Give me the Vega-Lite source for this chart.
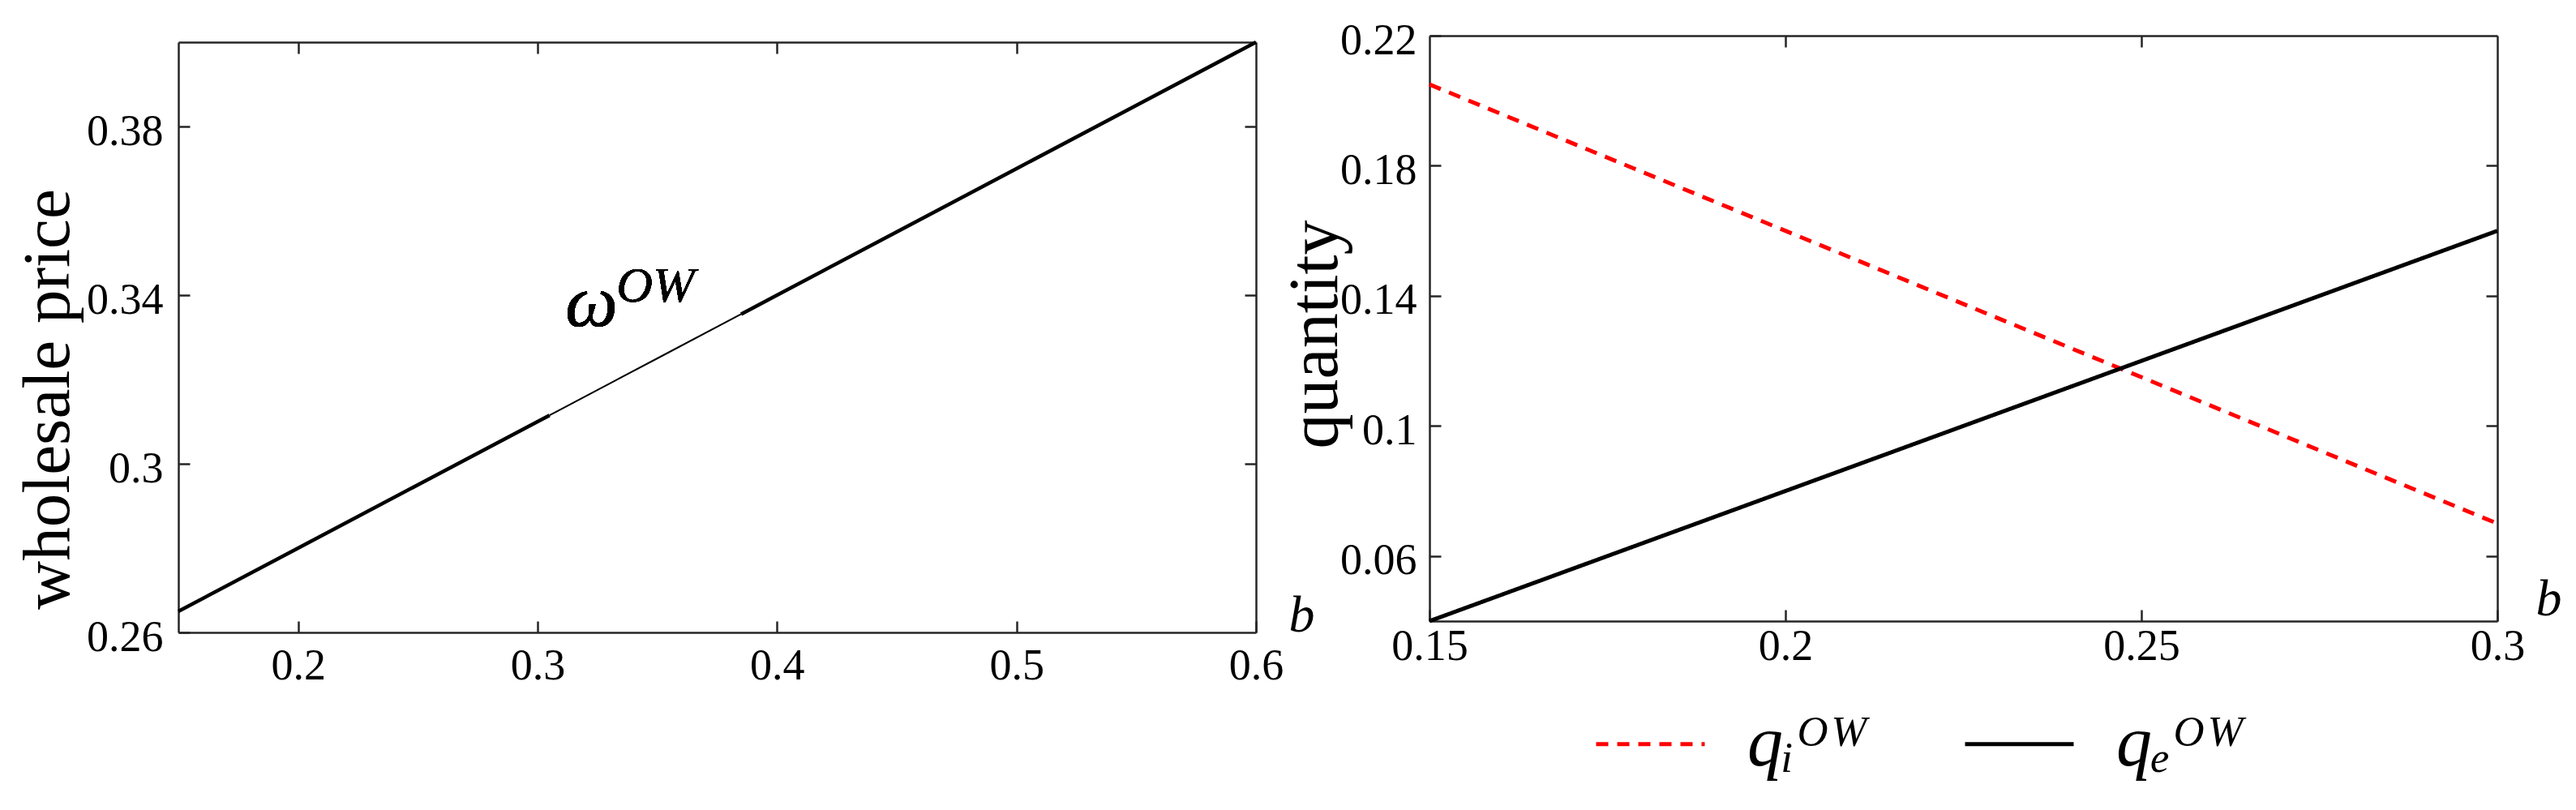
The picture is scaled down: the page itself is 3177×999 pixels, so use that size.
{
  "$schema": "https://vega.github.io/schema/vega-lite/v6.json",
  "background": "white",
  "padding": {"left": 18, "top": 23, "right": 5, "bottom": 5},
  "bounds": "flush",
  "spacing": 214,
  "config": {
    "view": {"stroke": null},
    "axis": {
      "grid": false,
      "domainColor": "#262626",
      "domainWidth": 2.5,
      "tickColor": "#262626",
      "tickWidth": 2.5,
      "tickSize": -14,
      "labelFont": "Liberation Serif",
      "labelFontSize": 54,
      "labelColor": "#000000",
      "labelFlush": false,
      "labelOverlap": false,
      "labelBound": false,
      "titleFont": "Liberation Serif",
      "titleFontWeight": "normal",
      "titleColor": "#000000"
    },
    "line": {"strokeCap": "butt"}
  },
  "hconcat": [
    {
      "width": 1329,
      "height": 736,
      "data": {
        "values": [
          {"b": 0.15, "price": 0.265},
          {"b": 0.2, "price": 0.28},
          {"b": 0.25, "price": 0.295},
          {"b": 0.3, "price": 0.31},
          {"b": 0.305, "price": 0.3115},
          {"b": 0.35, "price": 0.325},
          {"b": 0.385, "price": 0.3355},
          {"b": 0.4, "price": 0.34},
          {"b": 0.45, "price": 0.355},
          {"b": 0.5, "price": 0.37},
          {"b": 0.55, "price": 0.385},
          {"b": 0.6, "price": 0.4}
        ]
      },
      "layer": [
        {
          "transform": [{"filter": "datum.b <= 0.305"}],
          "mark": {"type": "line", "color": "#000000", "strokeWidth": 4.5},
          "encoding": {
            "x": {
              "field": "b", "type": "quantitative",
              "scale": {"domain": [0.15, 0.6], "nice": false, "zero": false},
              "axis": {
                "values": [0.2, 0.3, 0.4, 0.5, 0.6], "format": ".2~f",
                "labelPadding": 28,
                "title": "b", "titleFont": "Liberation Serif", "titleFontStyle": "italic",
                "titleFontSize": 64, "titleX": 1385, "titleY": -2,
                "titleAlign": "center", "titleBaseline": "alphabetic"
              }
            },
            "y": {
              "field": "price", "type": "quantitative",
              "scale": {"domain": [0.26, 0.4], "nice": false, "zero": false, "range": [736, 8]},
              "axis": {
                "values": [0.26, 0.3, 0.34, 0.38], "format": ".2~f",
                "labelPadding": 33, "labelOffset": 6,
                "title": "wholesale price", "titleFontSize": 83,
                "titleX": -136, "titleY": 448, "titleAngle": 270,
                "titleAlign": "center", "titleBaseline": "alphabetic"
              }
            }
          }
        },
        {
          "transform": [{"filter": "datum.b >= 0.305 && datum.b <= 0.385"}],
          "mark": {"type": "line", "color": "#000000", "strokeWidth": 2},
          "encoding": {
            "x": {"field": "b", "type": "quantitative", "axis": null},
            "y": {"field": "price", "type": "quantitative", "axis": null}
          }
        },
        {
          "transform": [{"filter": "datum.b >= 0.385"}],
          "mark": {"type": "line", "color": "#000000", "strokeWidth": 4.5},
          "encoding": {
            "x": {"field": "b", "type": "quantitative", "axis": null},
            "y": {"field": "price", "type": "quantitative", "axis": null}
          }
        },
        {
          "mark": {"type": "line", "opacity": 0},
          "encoding": {
            "x": {
              "field": "b", "type": "quantitative",
              "axis": {"orient": "top", "values": [0.2, 0.3, 0.4, 0.5], "labels": false, "title": null, "offset": -8}
            },
            "y": {
              "field": "price", "type": "quantitative",
              "axis": {"orient": "right", "values": [0.3, 0.34, 0.38], "labels": false, "title": null}
            }
          }
        },
        {
          "mark": {"type": "text", "text": "ω", "font": "Liberation Serif", "fontStyle": "italic", "fontSize": 92, "align": "left", "baseline": "alphabetic", "color": "#000000"},
          "encoding": {
            "x": {"datum": 0.3115, "type": "quantitative", "axis": null},
            "y": {"datum": 0.3327, "type": "quantitative", "axis": null}
          }
        },
        {
          "mark": {"type": "text", "text": "OW", "font": "Liberation Serif", "fontStyle": "italic", "fontSize": 62, "align": "left", "baseline": "alphabetic", "color": "#000000"},
          "encoding": {
            "x": {"datum": 0.3329, "type": "quantitative", "axis": null},
            "y": {"datum": 0.3385, "type": "quantitative", "axis": null}
          }
        }
      ],
      "resolve": {"axis": {"x": "independent", "y": "independent"}}
    },
    {
      "width": 1317,
      "height": 722,
      "data": {
        "values": [
          {"b": 0.15, "quantity": 0.205, "series": "qᵢᴼᵂ"},
          {"b": 0.3, "quantity": 0.07, "series": "qᵢᴼᵂ"},
          {"b": 0.15, "quantity": 0.04, "series": "qₑᴼᵂ"},
          {"b": 0.3, "quantity": 0.16, "series": "qₑᴼᵂ"}
        ]
      },
      "layer": [
        {
          "mark": {"type": "line", "strokeWidth": 5},
          "encoding": {
            "x": {
              "field": "b", "type": "quantitative",
              "scale": {"domain": [0.15, 0.3], "nice": false, "zero": false},
              "axis": {
                "values": [0.15, 0.2, 0.25, 0.3], "format": ".2~f",
                "labelPadding": 18,
                "title": "b", "titleFont": "Liberation Serif", "titleFontStyle": "italic",
                "titleFontSize": 64, "titleX": 1380, "titleY": -8,
                "titleAlign": "center", "titleBaseline": "alphabetic"
              }
            },
            "y": {
              "field": "quantity", "type": "quantitative",
              "scale": {"domain": [0.04, 0.22], "nice": false, "zero": false},
              "axis": {
                "values": [0.06, 0.1, 0.14, 0.18, 0.22], "format": ".2~f",
                "labelPadding": 30, "labelOffset": 6,
                "title": "quantity", "titleFontSize": 86,
                "titleX": -115, "titleY": 368, "titleAngle": 270,
                "titleAlign": "center", "titleBaseline": "alphabetic"
              }
            },
            "color": {
              "field": "series", "type": "nominal",
              "scale": {"domain": ["qᵢᴼᵂ", "qₑᴼᵂ"], "range": ["#ff0000", "#000000"]},
              "legend": {
                "orient": "none", "legendX": 1746, "legendY": 804,
                "direction": "horizontal", "title": null,
                "symbolType": "stroke", "symbolSize": 17956, "symbolStrokeWidth": 5,
                "labelFont": "Liberation Serif", "labelFontStyle": "italic",
                "labelFontSize": 88, "labelColor": "#000000", "labelOffset": 50,
                "labelLimit": 600, "columnPadding": 108, "padding": 0
              }
            },
            "strokeDash": {
              "field": "series", "type": "nominal",
              "scale": {"domain": ["qᵢᴼᵂ", "qₑᴼᵂ"], "range": [[15, 11], [1, 0]]},
              "legend": {
                "orient": "none", "legendX": 1746, "legendY": 804,
                "direction": "horizontal", "title": null,
                "symbolType": "stroke", "symbolSize": 17956, "symbolStrokeWidth": 5,
                "labelFont": "Liberation Serif", "labelFontStyle": "italic",
                "labelFontSize": 88, "labelColor": "#000000", "labelOffset": 50,
                "labelLimit": 600, "columnPadding": 108, "padding": 0
              }
            }
          }
        },
        {
          "mark": {"type": "line", "opacity": 0},
          "encoding": {
            "x": {
              "field": "b", "type": "quantitative",
              "axis": {"orient": "top", "values": [0.2, 0.25], "labels": false, "title": null}
            },
            "y": {
              "field": "quantity", "type": "quantitative",
              "axis": {"orient": "right", "values": [0.06, 0.1, 0.14, 0.18], "labels": false, "title": null}
            },
            "detail": {"field": "series", "type": "nominal"}
          }
        }
      ],
      "resolve": {"axis": {"x": "independent", "y": "independent"}}
    }
  ]
}
